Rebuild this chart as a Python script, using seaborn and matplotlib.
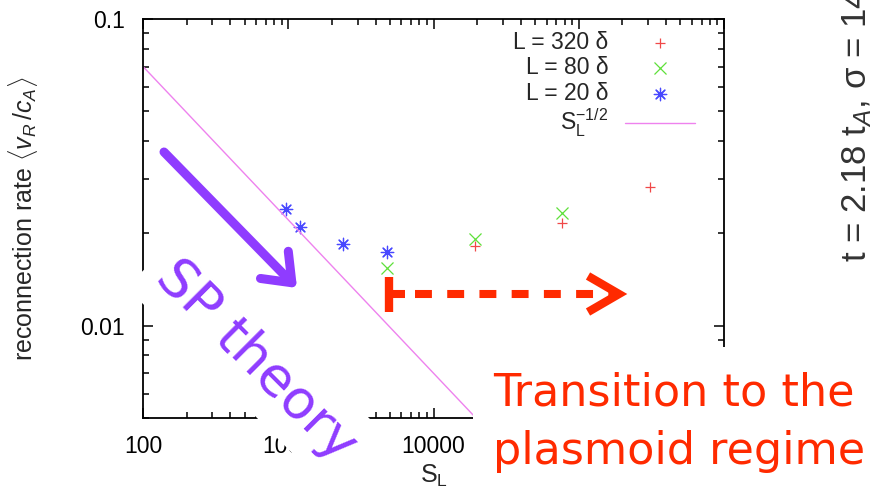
import matplotlib
matplotlib.use('Agg')
import matplotlib.pyplot as plt
import seaborn as sns
from matplotlib.lines import Line2D
from matplotlib.patches import Rectangle, FancyArrowPatch
from matplotlib.ticker import LogLocator, NullFormatter

# Lundquist number S_L and mean reconnection rate, one series per box length
S_320 = [19200, 76800, 307200]
rate_320 = [0.0182, 0.0216, 0.0284]
S_80 = [4800, 19200, 76800]
rate_80 = [0.0154, 0.0192, 0.0233]
S_20 = [960, 1200, 2400, 4800]
rate_20 = [0.0240, 0.0209, 0.0184, 0.0174]
# Sweet-Parker S_L^-1/2 line, end points
S_sp = [100, 1000000]
rate_sp = [0.07, 0.0007]

x_ticks = [100, 1000, 10000, 100000, 1000000]
x_ticklabels = ['100', '1000', '10000', '', '']   # last two sit under the slide text box
y_ticks = [0.01, 0.1]
y_ticklabels = ['0.01', '0.1']

W, H = 885, 495
PURPLE = '#8f3cff'
RED = '#ff2a00'


def fp(x, y):
    # pixel position in the picture -> figure fraction
    return (x / W, 1 - y / H)


sns.set_style('ticks')
plt.rcParams['font.family'] = ['Liberation Sans', 'DejaVu Sans']
plt.rcParams['mathtext.fontset'] = 'custom'
plt.rcParams['mathtext.rm'] = 'Liberation Sans'
plt.rcParams['mathtext.it'] = 'Liberation Sans:italic'
plt.rcParams['mathtext.sf'] = 'Liberation Sans'

fig = plt.figure(figsize=(8.85, 4.95), dpi=100)
ax = fig.add_axes([143 / W, 1 - 418 / H, (724 - 143) / W, (418 - 19) / H])

sns.scatterplot(x=S_320, y=rate_320, marker='+', color='#f04848', s=60,
                linewidth=0.9, label='L = 320 δ', ax=ax)
sns.scatterplot(x=S_80, y=rate_80, marker='x', color='#5fe03a', s=75,
                linewidth=0.9, label='L = 80 δ', ax=ax)
sns.scatterplot(x=S_20, y=rate_20, marker=(8, 2, 0), color='#4848ff', s=80,
                linewidth=0.9, label='L = 20 δ', ax=ax)
sns.lineplot(x=S_sp, y=rate_sp, color='#ee82ee', linewidth=1.0,
             label=r'$\mathrm{S}_\mathrm{L}^{\mathrm{-1/2}}$', ax=ax)

ax.set_xscale('log')
ax.set_yscale('log')
ax.set_xlim(100, 1000000)
ax.set_ylim(0.005, 0.1)
ax.set_xticks(x_ticks)
ax.set_xticklabels(x_ticklabels)
ax.set_yticks(y_ticks)
ax.set_yticklabels(y_ticklabels)
ax.xaxis.set_minor_locator(LogLocator(base=10, subs=range(2, 10)))
ax.yaxis.set_minor_locator(LogLocator(base=10, subs=range(2, 10)))
ax.xaxis.set_minor_formatter(NullFormatter())
ax.yaxis.set_minor_formatter(NullFormatter())
ax.tick_params(which='both', direction='in', top=True, right=True,
               width=1.1, colors='black', labelsize=16.5)
ax.tick_params(which='major', length=7.5)
ax.tick_params(which='minor', length=4.5)
ax.tick_params(axis='y', pad=13)
ax.tick_params(axis='x', pad=12)
for sp in ax.spines.values():
    sp.set_linewidth(1.3)
    sp.set_color('black')

ax.set_xlabel(r'S$_\mathrm{L}$', fontsize=18, labelpad=4)
ax.set_ylabel(r'reconnection rate $\langle v_R\,/c_A\rangle$', fontsize=18)
ax.yaxis.set_label_coords((40 - 143) / 581, 0.5)

leg = ax.legend(markerfirst=False, frameon=False, loc='upper right',
                bbox_to_anchor=((695 - 143) / 581, 1 - (31 - 19) / 399),
                borderaxespad=0, borderpad=0, handlelength=3.05,
                handletextpad=0.74, labelspacing=0.1, fontsize=16.5)

# slide overlays
fig.add_artist(Rectangle(fp(473, 495), (W - 473) / W, (495 - 347) / H,
                         transform=fig.transFigure, facecolor='white',
                         edgecolor='none', zorder=5))
fig.add_artist(FancyArrowPatch(fp(164, 152), fp(297, 288), transform=fig.transFigure,
                               arrowstyle='->,head_length=0.9,head_width=0.7',
                               mutation_scale=20, lw=6.5, color=PURPLE,
                               shrinkA=0, shrinkB=0, zorder=10))
fig.text(*fp(256, 361), 'SP theory', rotation=-45, rotation_mode='anchor',
         ha='center', va='center', fontsize=39, color=PURPLE, family='DejaVu Sans',
         bbox=dict(boxstyle='square,pad=0.25', facecolor='white', edgecolor='none'),
         zorder=10)

bar = [fp(389, 277), fp(389, 312)]
fig.add_artist(Line2D([p[0] for p in bar], [p[1] for p in bar], transform=fig.transFigure,
                      color=RED, lw=6, solid_capstyle='butt', zorder=10))
stub = [fp(389, 294), fp(405, 294)]
fig.add_artist(Line2D([p[0] for p in stub], [p[1] for p in stub], transform=fig.transFigure,
                      color=RED, lw=5.8, solid_capstyle='butt', zorder=10))
dash = [fp(415, 294), fp(615, 294)]
fig.add_artist(Line2D([p[0] for p in dash], [p[1] for p in dash], transform=fig.transFigure,
                      color=RED, lw=5.8, linestyle=(0, (2.1, 1.9)), zorder=10))
chev = [fp(588, 276), fp(619, 294), fp(588, 312)]
fig.add_artist(Line2D([p[0] for p in chev], [p[1] for p in chev], transform=fig.transFigure,
                      color=RED, lw=6, solid_capstyle='butt', solid_joinstyle='miter', zorder=10))

fig.text(*fp(493, 372), 'Transition to the\nplasmoid regime', ha='left', va='top',
         fontsize=32, color=RED, family='DejaVu Sans', linespacing=1.45, zorder=10)

fig.text(*fp(857, 262), 't = 2.18 t$_A$, σ = 14', rotation=90, ha='center', va='bottom',
         fontsize=25, color='#333333')

fig.savefig('out.png', dpi=100)
